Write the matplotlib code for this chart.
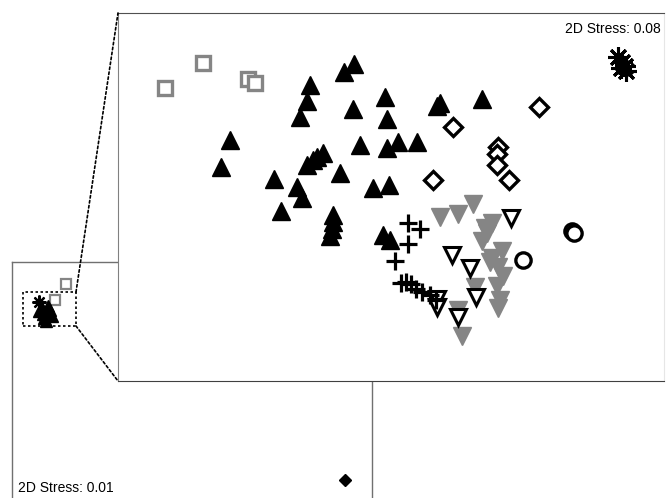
import matplotlib
matplotlib.use("Agg")
import matplotlib.pyplot as plt
from matplotlib.patches import Rectangle, ConnectionPatch

plt.rcParams["font.family"] = ["Liberation Sans", "DejaVu Sans"]

# full ordination (stress 0.01) - one outlier pushes everything else into a clump
full_tri_x = [30, 35, 32, 38, 27, 40, 34, 36, 31]
full_tri_y = [190, 185, 180, 188, 187, 182, 177, 192, 184]
full_star = (27, 196)
full_sq_x = [43, 54]
full_sq_y = [198, 214]
outlier = (333, 18)
zoom_box = (11, 172, 53, 34)   # x, y, width, height of the zoomed region

# reduced ordination (stress 0.08) without the outlier
sq_x = [47, 85, 130, 137]
sq_y = [293, 318, 302, 298]

tri_x = [236, 226, 192, 189, 182, 235, 267, 269, 322, 319, 364, 112, 103, 242, 269, 280, 299,
         205, 199, 195, 189, 222, 156, 179, 184, 163, 255, 271, 215, 215, 214, 212, 265, 272]
tri_y = [317, 309, 296, 280, 264, 272, 284, 262, 278, 275, 282, 241, 214, 236, 233, 239, 239,
         228, 224, 221, 216, 208, 202, 194, 183, 170, 193, 196, 166, 159, 152, 145, 146, 141]

plus_x = [290, 302, 290, 277, 283, 288, 293, 298, 304, 312, 318]
plus_y = [158, 152, 137, 120, 98, 99, 97, 92, 89, 86, 81]

gdown_x = [322, 340, 355, 374, 369, 364, 384, 374, 380, 385, 379, 382, 380, 357, 340, 344, 372, 367]
gdown_y = [164, 167, 177, 158, 148, 140, 130, 123, 114, 105, 95, 81, 73, 94, 71, 45, 119, 153]

odown_x = [334, 352, 393, 358, 319, 319, 340]
odown_y = [126, 113, 163, 84, 82, 74, 64]

dia_x = [335, 421, 380, 379, 379, 391, 315]
dia_y = [254, 274, 234, 227, 216, 201, 201]

circ_x = [454, 456, 405]
circ_y = [150, 148, 121]

star_x = [500, 504, 507, 503, 508]
star_y = [324, 319, 315, 313, 310]

GREY = "#858585"
asterisk = (8, 2, 0)

fig = plt.figure(figsize=(6.68, 4.98), dpi=100)

ax = fig.add_axes([12 / 668, 0, 360 / 668, 236 / 498])
ax.set_xlim(0, 360)
ax.set_ylim(0, 236)
ax.set_xticks([])
ax.set_yticks([])
ax.spines["bottom"].set_visible(False)
for s in ["left", "top", "right"]:
    ax.spines[s].set_color("#707070")
    ax.spines[s].set_linewidth(1.0)

ax.plot(full_sq_x, full_sq_y, "s", ms=7, mfc="white", mec=GREY, mew=1.6, ls="none")
ax.plot(full_tri_x, full_tri_y, "^", ms=9, color="black", ls="none")
ax.plot(*full_star, marker=asterisk, ms=10, color="black", mew=1.6)
ax.plot(*outlier, "D", ms=6, color="black")
ax.text(6, 3, "2D Stress: 0.01", fontsize=10, ha="left", va="bottom")

bx, by, bw, bh = zoom_box
ax.add_patch(Rectangle((bx, by), bw, bh, fill=False, ls=(0, (1.5, 1.5)), lw=1.2, ec="black"))

ins = fig.add_axes([118 / 668, 117 / 498, 546 / 668, 368 / 498])
ins.set_xlim(0, 546)
ins.set_ylim(0, 368)
ins.set_xticks([])
ins.set_yticks([])
ins.set_facecolor("white")
ins.spines["left"].set_color("#808080")
ins.spines["top"].set_color("#505050")
ins.spines["bottom"].set_color("#404040")
ins.spines["right"].set_color("#e6e6e6")

ins.plot(sq_x, sq_y, "s", ms=10.5, mfc="white", mec=GREY, mew=2.4, ls="none")
ins.plot(tri_x, tri_y, "^", ms=13, color="black", ls="none")
ins.plot(gdown_x, gdown_y, "v", ms=13, color=GREY, ls="none")
ins.plot(odown_x, odown_y, "v", ms=11.5, mfc="white", mec="black", mew=2.2, ls="none")
ins.plot(plus_x, plus_y, "+", ms=13, color="black", mew=2.3, ls="none")
ins.plot(dia_x, dia_y, "D", ms=9, mfc="white", mec="black", mew=2.4, ls="none")
ins.plot(circ_x, circ_y, "o", ms=11, mfc="white", mec="black", mew=2.4, ls="none")
ins.plot(star_x, star_y, marker=asterisk, ms=15, color="black", mew=2.2, ls="none")
ins.text(0.994, 0.975, "2D Stress: 0.08", transform=ins.transAxes, fontsize=10,
         ha="right", va="top")

# dotted leader lines from the zoom box to the inset corners
for (px, py), corner in [((bx + bw, by + bh), (0, 1)), ((bx + bw, by), (0, 0))]:
    con = ConnectionPatch(xyA=(px, py), coordsA=ax.transData,
                          xyB=corner, coordsB=ins.transAxes,
                          ls=(0, (1.5, 1.5)), lw=1.2, color="black")
    fig.add_artist(con)

fig.savefig("out.png", dpi=100)
